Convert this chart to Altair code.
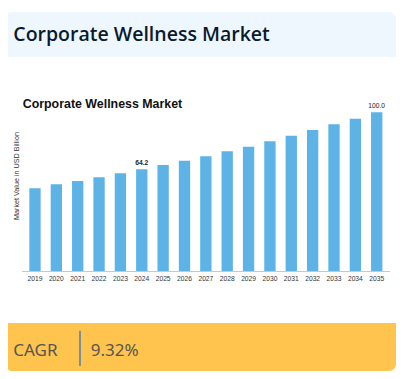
import altair as alt
import pandas as pd

years = ["2019", "2020", "2021", "2022", "2023", "2024", "2025", "2026", "2027",
         "2028", "2029", "2030", "2031", "2032", "2033", "2034", "2035"]
values = [52.3, 54.8, 56.8, 59.2, 61.7, 64.2, 66.9, 69.6, 72.4,
          75.5, 78.4, 81.8, 85.3, 88.9, 92.5, 96.0, 100.0]
labels = ["", "", "", "", "", "64.2", "", "", "", "", "", "", "", "", "", "", "100.0"]

header_title = "Corporate Wellness Market"
inner_title = "Corporate Wellness Market"
y_title = "Market Value in USD Billion"
cagr_label = "CAGR"
cagr_value = "9.32%"

df = pd.DataFrame({"year": years, "value": values, "label": labels})
one = pd.DataFrame({"a": [0]})

W, H = 388, 363
SANS = "Liberation Sans, Arial, sans-serif"

x_scale = alt.Scale(domain=years, range=[16.3, 379.4], paddingInner=0.47, paddingOuter=0.235)
y_scale = alt.Scale(domain=[0, 100], range=[263.5, 104.3], nice=False, zero=True)

header_bg = alt.Chart(one).mark_rect(
    color="#EFF7FE", cornerRadiusTopLeft=7, cornerRadiusTopRight=7
).encode(x=alt.value(-3), x2=alt.value(388), y=alt.value(4), y2=alt.value(49))

header_text = alt.Chart(one).mark_text(
    text=header_title, font="Open Sans", fontSize=19.5, fontWeight=600,
    color="#0B1A2E", align="left", baseline="alphabetic"
).encode(x=alt.value(5.3), y=alt.value(33))

inner_text = alt.Chart(one).mark_text(
    text=inner_title, font=SANS, fontSize=12.4, fontWeight="bold",
    color="#111111", align="left", baseline="alphabetic"
).encode(x=alt.value(14.7), y=alt.value(100.3))

ytitle = alt.Chart(one).mark_text(
    text=y_title, font=SANS, fontSize=7.2, angle=270,
    color="#333333", align="center", baseline="middle"
).encode(x=alt.value(9), y=alt.value(168))

bars = alt.Chart(df).mark_bar(color="#5DB3E6").encode(
    x=alt.X("year:N", scale=x_scale, axis=None, sort=years),
    y=alt.Y("value:Q", scale=y_scale, axis=None),
)

axis_line = alt.Chart(one).mark_rule(color="#C8C8C8", strokeWidth=1).encode(
    x=alt.value(14), x2=alt.value(382), y=alt.value(263.5)
)

tick_labels = alt.Chart(df).mark_text(
    font=SANS, fontSize=6.7, color="#333333", align="center", baseline="alphabetic"
).encode(
    x=alt.X("year:N", scale=x_scale, axis=None, sort=years),
    y=alt.value(273),
    text="year:N",
)

lab_bold = alt.Chart(df).transform_filter(alt.datum.year == "2024").mark_text(
    font=SANS, fontSize=6.7, fontWeight="bold", color="#222222",
    align="center", baseline="alphabetic", dy=-4
).encode(
    x=alt.X("year:N", scale=x_scale, axis=None, sort=years),
    y=alt.Y("value:Q", scale=y_scale, axis=None),
    text="label:N",
)

lab_norm = alt.Chart(df).transform_filter(alt.datum.year == "2035").mark_text(
    font=SANS, fontSize=6.7, color="#222222",
    align="center", baseline="alphabetic", dy=-4
).encode(
    x=alt.X("year:N", scale=x_scale, axis=None, sort=years),
    y=alt.Y("value:Q", scale=y_scale, axis=None),
    text="label:N",
)

footer_bg = alt.Chart(one).mark_rect(
    color="#FFC44D", cornerRadiusBottomLeft=7, cornerRadiusBottomRight=7
).encode(x=alt.value(-3), x2=alt.value(388), y=alt.value(315), y2=alt.value(363))

divider = alt.Chart(one).mark_rule(color="#1F6FD6", strokeWidth=1.2).encode(
    x=alt.value(72), y=alt.value(322.7), y2=alt.value(358)
)

cagr_t = alt.Chart(one).mark_text(
    text=cagr_label, font="Noto Sans", fontSize=17, color="#555555",
    align="left", baseline="alphabetic"
).encode(x=alt.value(5.3), y=alt.value(348))

cagr_v = alt.Chart(one).mark_text(
    text=cagr_value, font="Noto Sans", fontSize=17, color="#555555",
    align="left", baseline="alphabetic"
).encode(x=alt.value(82.7), y=alt.value(348))

chart = alt.layer(
    header_bg, header_text, inner_text, ytitle, bars, axis_line, tick_labels,
    lab_bold, lab_norm, footer_bg, divider, cagr_t, cagr_v
).properties(
    width=W, height=H, padding=0, autosize=alt.AutoSizeParams(type="none"),
    background="white"
).configure_view(stroke=None)

chart.save("out.html", embed_options={"renderer": "svg", "actions": False})
